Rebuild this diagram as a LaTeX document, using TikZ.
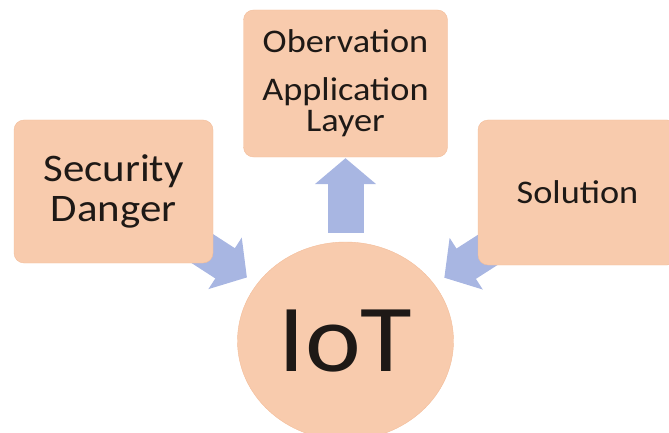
\documentclass[tikz,border=0pt]{standalone}
\usepackage{fontspec}
\setmainfont{Carlito}[FakeStretch=1.1]
\usetikzlibrary{arrows.meta,backgrounds,shapes.geometric}
\definecolor{peach}{RGB}{248,203,173}
\definecolor{peachline}{RGB}{243,189,154}
\definecolor{arrowblue}{RGB}{168,182,226}
\definecolor{inkcol}{RGB}{30,25,22}
\tikzset{
  box/.style={draw=peachline, fill=peach, rounded corners=10pt, inner sep=0pt,
    align=center, text=inkcol},
  bigarrow/.style={draw=arrowblue, line width=36pt,
    -{Triangle[length=26pt,width=60pt]}}
}
\begin{document}
\begin{tikzpicture}[x=1pt,y=-1pt]
   \useasboundingbox (0,0) rectangle (669,433);
   \node[box, minimum width=199pt, minimum height=143pt,
      font=\fontsize{39}{40}\selectfont] (sec) at (113.5,191.5) {Security\\Danger};
   \node[box, minimum width=204pt, minimum height=147pt,
      font=\fontsize{33}{31}\selectfont] (obs) at (345.5,83.5)
      {Obervation\\[17pt]Application\\Layer};
   \node[box, minimum width=199pt, minimum height=145pt,
      font=\fontsize{33}{36}\selectfont] (sol) at (577.5,192.5) {Solution};
   \node[box, ellipse, minimum width=216pt, minimum height=198pt,
      font=\fontsize{96}{96}\selectfont] (iot) at (345.5,341) {IoT};
   \begin{scope}[on background layer]
   \draw[bigarrow, shorten <=9pt, shorten >=1pt] (iot.north) -- (obs.south);
   \draw[bigarrow, shorten <=-35pt, shorten >=12pt] (sec) -- (iot);
   \draw[bigarrow, shorten <=-35pt, shorten >=12pt] (sol) -- (iot);
   \end{scope}
\end{tikzpicture}
\end{document}
